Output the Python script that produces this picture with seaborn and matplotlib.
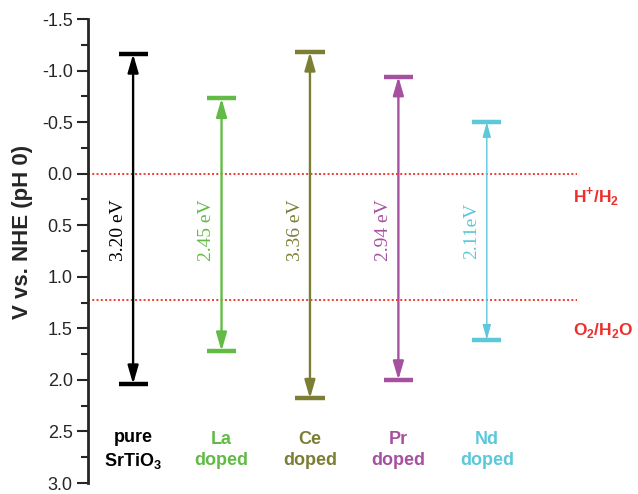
import matplotlib
matplotlib.use("Agg")
import matplotlib.pyplot as plt
from matplotlib.ticker import MultipleLocator
import seaborn as sns
import pandas as pd

# Band edges of the doped SrTiO3 samples (V vs. NHE, pH 0)
samples = ["pure\nSrTiO$_\\mathbf{3}$", "La\ndoped", "Ce\ndoped", "Pr\ndoped", "Nd\ndoped"]
cb_edge = [-1.16, -0.73, -1.18, -0.94, -0.50]   # conduction band minimum
vb_edge = [2.04, 1.72, 2.18, 2.00, 1.61]        # valence band maximum
ev_sep = [" eV", " eV", " eV", " eV", "eV"]
colors = ["#000000", "#62BB46", "#7C7E33", "#A6519F", "#5CC8DA"]

# Water redox potentials
redox_levels = [0.0, 1.23]
redox_labels = ["H$^\\mathbf{+}$/H$_\\mathbf{2}$", "O$_\\mathbf{2}$/H$_\\mathbf{2}$O"]
redox_label_y = [0.22, 1.52]

sns.set_style("ticks")
plt.rcParams["font.family"] = ["Liberation Sans", "DejaVu Sans"]
plt.rcParams["mathtext.fontset"] = "custom"
plt.rcParams["mathtext.bf"] = "Liberation Sans:bold"
plt.rcParams["mathtext.rm"] = "Liberation Sans"

df = pd.DataFrame({"sample": samples, "cb": cb_edge, "vb": vb_edge, "color": colors})
df["x"] = range(len(df))
df["gap"] = df["vb"] - df["cb"]

fig = plt.figure(figsize=(6.38, 4.94), dpi=100)
ax = fig.add_axes([88 / 638, 11 / 494, 489 / 638, 464 / 494])

# dotted redox reference lines
for lvl in redox_levels:
    ax.axhline(lvl, color="#F03A30", lw=1.4, ls=(0, (1, 1.2)), zorder=1)

# band edge caps
edges = pd.concat([
    df[["x", "cb", "sample"]].rename(columns={"cb": "E"}),
    df[["x", "vb", "sample"]].rename(columns={"vb": "E"}),
])
sns.scatterplot(data=edges, x="x", y="E", hue="sample", palette=colors,
                marker="_", s=440, linewidth=3.2, legend=False, ax=ax, zorder=3)

# band gap arrows and labels
for _, r in df.iterrows():
    thin = r["x"] == 4
    lw = 1.0 if thin else 1.7
    style = ("<|-|>,head_length=0.9,head_width=0.25" if thin
             else "<|-|>,head_length=1.1,head_width=0.32")
    ax.annotate("", xy=(r["x"], r["cb"]), xytext=(r["x"], r["vb"]),
                arrowprops=dict(arrowstyle=style, color=r["color"], lw=lw,
                                shrinkA=0, shrinkB=0, mutation_scale=10),
                zorder=2)
    ax.text(r["x"] - 0.07, 0.55, f"{r['gap']:.2f}{ev_sep[int(r['x'])]}",
            rotation=90, ha="right", va="center", color=r["color"],
            fontsize=14, family=["Liberation Serif", "DejaVu Serif"])
    ax.text(r["x"], 2.68, r["sample"], ha="center", va="center",
            color=r["color"], fontsize=13, fontweight="bold", linespacing=1.35)

for lbl, y in zip(redox_labels, redox_label_y):
    ax.text(4.97, y, lbl, ha="left", va="center", color="#EC2F2B",
            fontsize=12.5, fontweight="bold", clip_on=False)

ax.set_xlim(-0.51, 5.02)
ax.set_ylim(3.0, -1.5)
ax.yaxis.set_major_locator(MultipleLocator(0.5))
ax.yaxis.set_minor_locator(MultipleLocator(0.25))
ax.yaxis.set_major_formatter(plt.FuncFormatter(lambda v, p: f"{v:.1f}"))
ax.tick_params(axis="y", which="major", length=8, width=1.5, labelsize=13, pad=3)
ax.tick_params(axis="y", which="minor", length=5, width=1.5)
ax.set_xticks([])
ax.set_xlabel("")
ax.set_ylabel("V vs. NHE (pH 0)", fontsize=16, fontweight="bold")
ax.yaxis.set_label_coords(-0.112, 0.542)
for side in ["top", "right", "bottom"]:
    ax.spines[side].set_visible(False)
ax.spines["left"].set_linewidth(2.0)
ax.patch.set_alpha(0)

fig.savefig("out.png", dpi=100)
